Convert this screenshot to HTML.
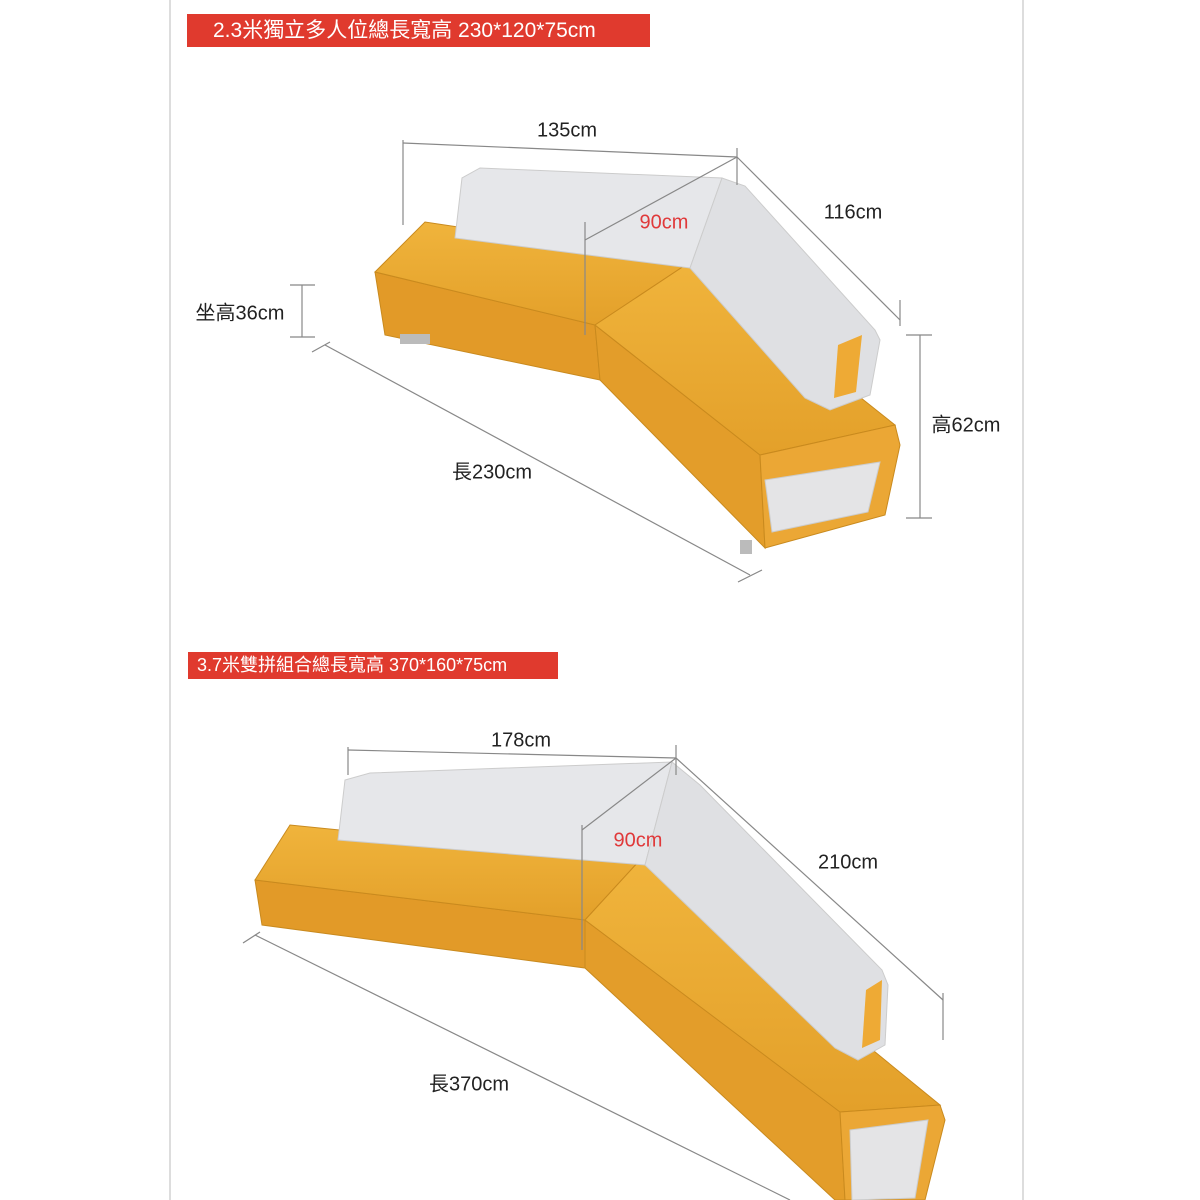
<!DOCTYPE html>
<html><head><meta charset="utf-8"><style>
body{margin:0;width:1200px;height:1200px;background:#fff;overflow:hidden;position:relative;font-family:"Liberation Sans","Noto Sans CJK TC",sans-serif}
.t{position:absolute;white-space:nowrap;font-size:20px;color:#222;transform:translate(-50%,-50%)}
.h{position:absolute;background:#e03a2e;color:#fff;white-space:nowrap;box-sizing:border-box}
</style></head><body>
<div style="position:absolute;left:169px;top:0;width:2px;height:1200px;background:#ddd"></div>
<div style="position:absolute;left:1022px;top:0;width:2px;height:1200px;background:#ddd"></div>
<div class="h" style="left:187px;top:14px;width:463px;height:33px;font-size:21px;line-height:33px;padding-left:26px">2.3米獨立多人位總長寬高 230*120*75cm</div>
<div class="h" style="left:188px;top:652px;width:370px;height:27px;font-size:18px;line-height:27px;padding-left:9px">3.7米雙拼組合總長寬高 370*160*75cm</div>
<svg width="1200" height="1200" style="position:absolute;left:0;top:0">
<defs><linearGradient id="y" x1="0" y1="0" x2="0" y2="1"><stop offset="0" stop-color="#f0b43c"/><stop offset="1" stop-color="#e3a02a"/></linearGradient></defs>
<!-- sofa 1 -->
<g stroke="#c98a1e" stroke-width="1">
<polygon points="385,335 375,272 595,325 600,380" fill="#e29a28"/>
<polygon points="600,380 595,325 760,455 765,548" fill="#e39d2a"/>
<polygon points="375,272 425,222 690,262 595,325" fill="url(#y)"/>
<polygon points="595,325 690,262 895,425 760,455" fill="url(#y)"/>
<polygon points="760,455 895,425 900,445 885,515 765,548" fill="#eba735"/>
</g>
<polygon points="765,480 880,462 868,512 772,532" fill="#e4e4e6" stroke="#ccc"/>
<polygon points="455,238 462,178 480,168 722,178 690,268" fill="#e6e7ea" stroke="#ccc"/>
<polygon points="690,268 722,178 745,186 875,330 880,340 870,395 830,410 805,398" fill="#dfe0e3" stroke="#ccc"/>
<polygon points="838,345 862,335 856,392 834,398" fill="#eeaa35"/>
<rect x="400" y="334" width="30" height="10" fill="#bbb"/><rect x="740" y="540" width="12" height="14" fill="#bbb"/>
<!-- sofa 2 -->
<g stroke="#c98a1e" stroke-width="1">
<polygon points="262,925 255,880 585,920 585,968" fill="#e29a28"/>
<polygon points="585,968 585,920 840,1110 845,1200 835,1200" fill="#e39d2a"/>
<polygon points="255,880 290,825 640,860 585,920" fill="url(#y)"/>
<polygon points="585,920 640,860 940,1105 840,1112" fill="url(#y)"/>
<polygon points="840,1112 940,1105 945,1120 925,1200 845,1200" fill="#eba735"/>
</g>
<polygon points="850,1130 928,1120 915,1198 852,1200" fill="#e4e4e6" stroke="#ccc"/>
<polygon points="338,840 345,780 370,773 672,762 645,865" fill="#e6e7ea" stroke="#ccc"/>
<polygon points="645,865 672,762 700,785 882,970 888,985 885,1045 858,1060 835,1048" fill="#dfe0e3" stroke="#ccc"/>
<polygon points="866,990 882,980 880,1040 862,1048" fill="#eeaa35"/>
<!-- dims -->
<g stroke="#888" stroke-width="1.2" fill="none">
<line x1="403" y1="143" x2="737" y2="157"/><line x1="403" y1="140" x2="403" y2="225"/><line x1="737" y1="148" x2="737" y2="185"/>
<line x1="737" y1="157" x2="900" y2="320"/><line x1="900" y1="300" x2="900" y2="326"/>
<line x1="737" y1="157" x2="585" y2="240"/><line x1="585" y1="222" x2="585" y2="335"/>
<line x1="290" y1="285" x2="315" y2="285"/><line x1="302" y1="285" x2="302" y2="337"/><line x1="290" y1="337" x2="315" y2="337"/>
<line x1="920" y1="335" x2="920" y2="518"/><line x1="906" y1="335" x2="932" y2="335"/><line x1="906" y1="518" x2="932" y2="518"/>
<line x1="312" y1="352" x2="330" y2="342"/><line x1="325" y1="345" x2="750" y2="575"/><line x1="738" y1="582" x2="762" y2="570"/>
<line x1="348" y1="750" x2="676" y2="758"/><line x1="348" y1="747" x2="348" y2="775"/><line x1="676" y1="745" x2="676" y2="775"/>
<line x1="676" y1="758" x2="943" y2="1000"/><line x1="943" y1="993" x2="943" y2="1040"/>
<line x1="676" y1="758" x2="582" y2="830"/><line x1="582" y1="825" x2="582" y2="950"/>
<line x1="243" y1="943" x2="260" y2="932"/><line x1="255" y1="935" x2="790" y2="1200"/>
</g>
</svg>
<div class="t" style="left:567px;top:131px">135cm</div>
<div class="t" style="left:853px;top:213px">116cm</div>
<div class="t" style="left:664px;top:223px;color:#e0393a">90cm</div>
<div class="t" style="left:240px;top:311px">坐高36cm</div>
<div class="t" style="left:966px;top:423px">高62cm</div>
<div class="t" style="left:492px;top:470px">長230cm</div>
<div class="t" style="left:521px;top:741px">178cm</div>
<div class="t" style="left:638px;top:841px;color:#e0393a">90cm</div>
<div class="t" style="left:848px;top:863px">210cm</div>
<div class="t" style="left:469px;top:1082px">長370cm</div>
</body></html>
